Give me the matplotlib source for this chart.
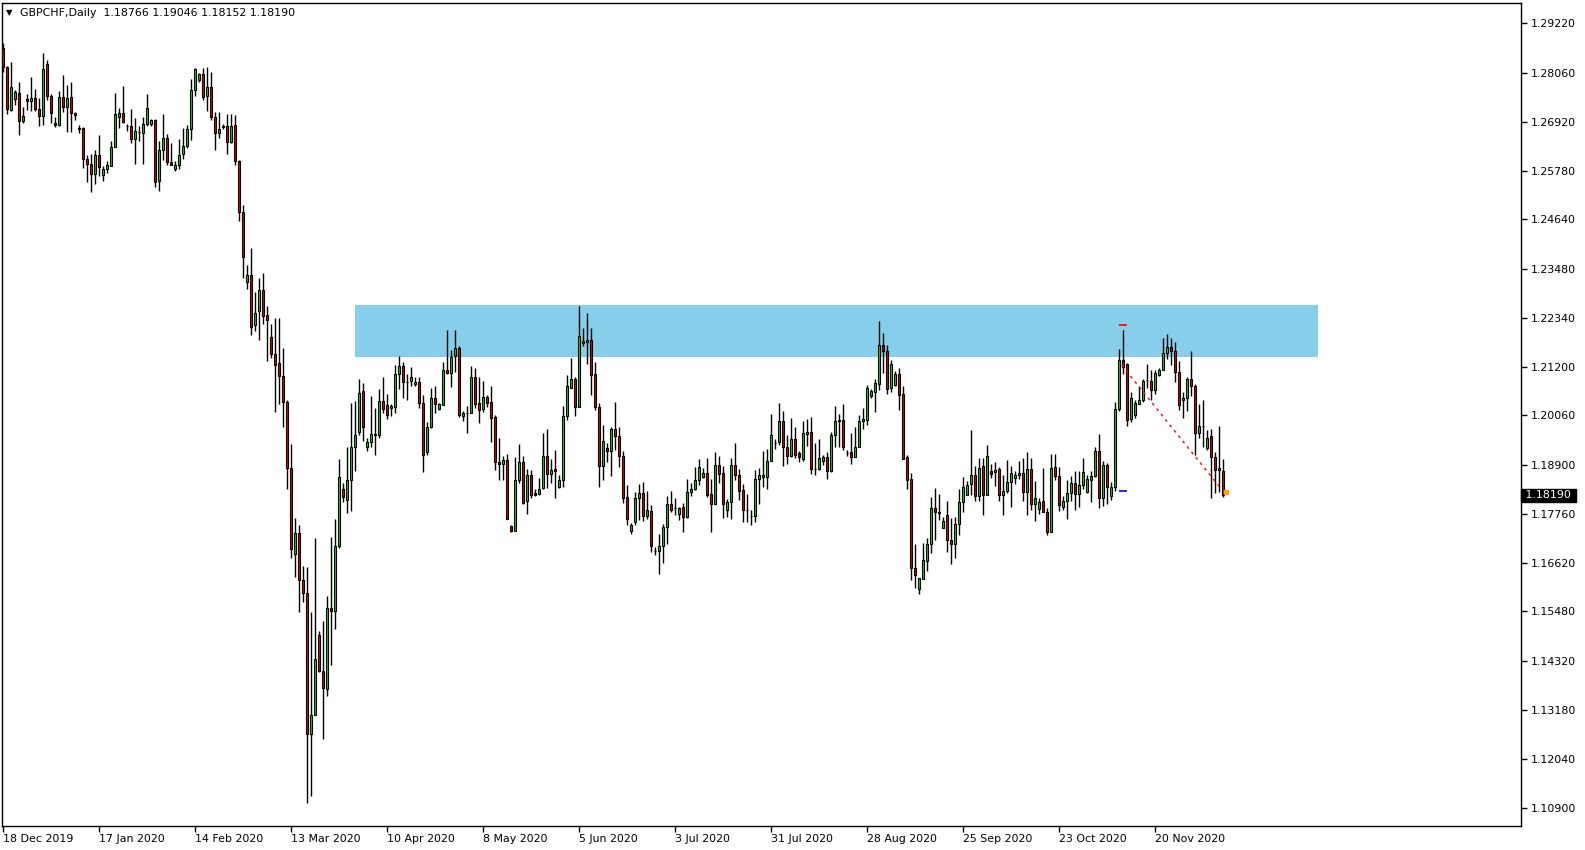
import matplotlib
matplotlib.use("Agg")
import matplotlib.pyplot as plt
import numpy as np

# GBPCHF daily candles, one value per bar
opens = [
    1.2864, 1.2819, 1.2720, 1.2745, 1.2759, 1.2693, 1.2745, 1.2740, 1.2747, 1.2722,
    1.2706, 1.2826, 1.2752, 1.2689, 1.2684, 1.2750, 1.2726, 1.2750, 1.2713, 1.2677,
    1.2678, 1.2606, 1.2594, 1.2571, 1.2615, 1.2568, 1.2582, 1.2589, 1.2634, 1.2704,
    1.2712, 1.2682, 1.2682, 1.2652, 1.2668, 1.2666, 1.2687, 1.2687, 1.2695, 1.2553,
    1.2625, 1.2655, 1.2599, 1.2581, 1.2592, 1.2616, 1.2636, 1.2674, 1.2766, 1.2789,
    1.2803, 1.2751, 1.2773, 1.2703, 1.2666, 1.2681, 1.2681, 1.2644, 1.2685, 1.2601,
    1.2480, 1.2317, 1.2334, 1.2217, 1.2249, 1.2300, 1.2241, 1.2189, 1.2149, 1.2128,
    1.2099, 1.2037, 1.1883, 1.1682, 1.1732, 1.1621, 1.1590, 1.1261, 1.1306, 1.1494,
    1.1410, 1.1366, 1.1556, 1.1550, 1.1701, 1.1835, 1.1808, 1.1856, 1.1933, 1.1968,
    1.2064, 1.1931, 1.1943, 1.1959, 1.1961, 1.2040, 1.2030, 1.2024, 1.2026, 1.2102,
    1.2122, 1.2085, 1.2086, 1.2079, 1.2084, 1.2034, 1.1920, 1.1980, 1.2046, 1.2021,
    1.2030, 1.2113, 1.2106, 1.2144, 1.2164, 1.2005, 1.2011, 1.2012, 1.2095, 1.2034,
    1.2021, 1.2050, 1.2038, 1.2002, 1.1896, 1.1893, 1.1902, 1.1747, 1.1737, 1.1854,
    1.1896, 1.1805, 1.1866, 1.1825, 1.1823, 1.1837, 1.1912, 1.1870, 1.1881, 1.1838,
    1.1854, 1.2005, 1.2071, 1.2090, 1.2026, 1.2175, 1.2178, 1.2183, 1.2102, 1.2026,
    1.1888, 1.1929, 1.1922, 1.1974, 1.1957, 1.1910, 1.1815, 1.1737, 1.1757, 1.1813,
    1.1825, 1.1772, 1.1782, 1.1690, 1.1689, 1.1701, 1.1745, 1.1799, 1.1790, 1.1775,
    1.1792, 1.1768, 1.1826, 1.1834, 1.1854, 1.1861, 1.1871, 1.1823, 1.1798, 1.1889,
    1.1871, 1.1786, 1.1803, 1.1889, 1.1867, 1.1831, 1.1785, 1.1772, 1.1771, 1.1857,
    1.1862, 1.1861, 1.1899, 1.1941, 1.1943, 1.1994, 1.1933, 1.1910, 1.1950, 1.1918,
    1.1903, 1.1963, 1.1968, 1.1881, 1.1881, 1.1899, 1.1908, 1.1875, 1.1959, 1.1993,
    1.1995, 1.1918, 1.1920, 1.1908, 1.1931, 1.1992, 1.1995, 1.2051, 1.2061, 1.2079,
    1.2171, 1.2157, 1.2071, 1.2077, 1.2102, 1.2055, 1.1909, 1.1857, 1.1649, 1.1600,
    1.1623, 1.1666, 1.1705, 1.1790, 1.1780, 1.1742, 1.1773, 1.1716, 1.1705, 1.1753,
    1.1803, 1.1821, 1.1846, 1.1866, 1.1817, 1.1887, 1.1819, 1.1875, 1.1873, 1.1881,
    1.1821, 1.1830, 1.1850, 1.1860, 1.1866, 1.1871, 1.1826, 1.1881, 1.1799, 1.1788,
    1.1806, 1.1780, 1.1733, 1.1885, 1.1865, 1.1792, 1.1806, 1.1824, 1.1848, 1.1823,
    1.1843, 1.1827, 1.1856, 1.1864, 1.1922, 1.1812, 1.1889, 1.1817, 1.1838, 1.2020,
    1.2136, 1.2125, 1.1998, 1.2007, 1.2033, 1.2041, 1.2088, 1.2087, 1.2065, 1.2100,
    1.2112, 1.2152, 1.2166, 1.2157, 1.2108, 1.2041, 1.2047, 1.2090, 1.2075, 1.1964,
    1.1982, 1.1930, 1.1957, 1.1908, 1.1878, 1.18766,
]
highs = [
    1.2877, 1.2821, 1.2831, 1.2765, 1.2785, 1.2726, 1.2757, 1.2797, 1.2769, 1.2747,
    1.2852, 1.2837, 1.2757, 1.2702, 1.2764, 1.2801, 1.2777, 1.2785, 1.2715, 1.2685,
    1.2680, 1.2614, 1.2616, 1.2626, 1.2662, 1.2589, 1.2600, 1.2647, 1.2759, 1.2724,
    1.2775, 1.2687, 1.2722, 1.2701, 1.2681, 1.2702, 1.2757, 1.2699, 1.2699, 1.2647,
    1.2709, 1.2664, 1.2642, 1.2601, 1.2651, 1.2678, 1.2684, 1.2792, 1.2818, 1.2806,
    1.2818, 1.2820, 1.2809, 1.2714, 1.2714, 1.2686, 1.2711, 1.2711, 1.2707, 1.2603,
    1.2497, 1.2358, 1.2397, 1.2295, 1.2327, 1.2339, 1.2261, 1.2219, 1.2233, 1.2233,
    1.2163, 1.2041, 1.1938, 1.1766, 1.1751, 1.1655, 1.1651, 1.1546, 1.1719, 1.1503,
    1.1525, 1.1585, 1.1723, 1.1765, 1.1904, 1.1848, 1.1933, 1.2034, 1.2040, 1.2090,
    1.2082, 1.1954, 1.2052, 1.2023, 1.2067, 1.2095, 1.2057, 1.2032, 1.2123, 1.2145,
    1.2130, 1.2102, 1.2119, 1.2096, 1.2096, 1.2054, 1.1990, 1.2071, 1.2075, 1.2036,
    1.2130, 1.2205, 1.2158, 1.2206, 1.2168, 1.2016, 1.2028, 1.2122, 1.2116, 1.2095,
    1.2086, 1.2054, 1.2075, 1.2007, 1.1953, 1.1912, 1.1916, 1.1750, 1.1909, 1.1939,
    1.1912, 1.1881, 1.1878, 1.1833, 1.1860, 1.1964, 1.1975, 1.1905, 1.1924, 1.1866,
    1.2028, 1.2101, 1.2139, 1.2096, 1.2261, 1.2210, 1.2246, 1.2210, 1.2131, 1.2036,
    1.1984, 1.1941, 1.1980, 1.2038, 1.1978, 1.1923, 1.1843, 1.1755, 1.1826, 1.1846,
    1.1850, 1.1829, 1.1796, 1.1699, 1.1728, 1.1753, 1.1817, 1.1829, 1.1813, 1.1792,
    1.1802, 1.1857, 1.1848, 1.1885, 1.1905, 1.1883, 1.1906, 1.1857, 1.1920, 1.1910,
    1.1888, 1.1811, 1.1906, 1.1941, 1.1881, 1.1846, 1.1823, 1.1785, 1.1879, 1.1883,
    1.1923, 1.1928, 1.2009, 1.1950, 1.2036, 1.2017, 1.1961, 1.1999, 1.1980, 1.1922,
    1.1992, 1.1997, 1.2002, 1.1941, 1.1950, 1.1914, 1.1920, 1.1968, 1.2029, 1.2009,
    1.2032, 1.1924, 1.1965, 1.1978, 1.2007, 1.2023, 1.2078, 1.2067, 1.2091, 1.2226,
    1.2199, 1.2171, 1.2135, 1.2109, 1.2116, 1.2074, 1.1914, 1.1871, 1.1705, 1.1627,
    1.1709, 1.1720, 1.1815, 1.1837, 1.1822, 1.1768, 1.1806, 1.1767, 1.1768, 1.1833,
    1.1862, 1.1852, 1.1971, 1.1887, 1.1906, 1.1906, 1.1936, 1.1893, 1.1898, 1.1885,
    1.1867, 1.1902, 1.1887, 1.1875, 1.1900, 1.1906, 1.1920, 1.1906, 1.1852, 1.1812,
    1.1883, 1.1790, 1.1915, 1.1916, 1.1885, 1.1817, 1.1854, 1.1864, 1.1875, 1.1877,
    1.1906, 1.1867, 1.1875, 1.1932, 1.1962, 1.1899, 1.1895, 1.1850, 1.2038, 1.2162,
    1.2206, 1.2129, 1.2061, 1.2042, 1.2075, 1.2090, 1.2127, 1.2112, 1.2113, 1.2117,
    1.2187, 1.2195, 1.2187, 1.2178, 1.2133, 1.2061, 1.2096, 1.2156, 1.2079, 1.2032,
    1.2041, 1.1972, 1.1974, 1.1920, 1.1981, 1.19046,
]
lows = [
    1.2807, 1.2711, 1.2718, 1.2730, 1.2661, 1.2689, 1.2720, 1.2718, 1.2718, 1.2682,
    1.2685, 1.2742, 1.2688, 1.2680, 1.2682, 1.2714, 1.2668, 1.2668, 1.2695, 1.2666,
    1.2585, 1.2550, 1.2528, 1.2547, 1.2565, 1.2554, 1.2573, 1.2589, 1.2634, 1.2678,
    1.2689, 1.2671, 1.2643, 1.2594, 1.2648, 1.2594, 1.2682, 1.2682, 1.2540, 1.2531,
    1.2603, 1.2592, 1.2590, 1.2578, 1.2581, 1.2606, 1.2631, 1.2650, 1.2751, 1.2784,
    1.2742, 1.2717, 1.2695, 1.2625, 1.2653, 1.2675, 1.2617, 1.2642, 1.2590, 1.2460,
    1.2327, 1.2302, 1.2193, 1.2202, 1.2183, 1.2219, 1.2133, 1.2141, 1.2013, 1.2033,
    1.1980, 1.1833, 1.1674, 1.1629, 1.1546, 1.1571, 1.1100, 1.1118, 1.1306, 1.1406,
    1.1249, 1.1350, 1.1423, 1.1507, 1.1696, 1.1804, 1.1778, 1.1782, 1.1877, 1.1959,
    1.1947, 1.1922, 1.1933, 1.1913, 1.1954, 1.2011, 1.1998, 1.2005, 1.2011, 1.2067,
    1.2047, 1.2042, 1.2075, 1.2075, 1.2023, 1.1873, 1.1913, 1.1976, 1.2011, 1.2019,
    1.2030, 1.2102, 1.2073, 1.2108, 1.2003, 1.1993, 1.1964, 1.2012, 1.2023, 1.1989,
    1.2015, 1.2026, 1.1944, 1.1879, 1.1856, 1.1854, 1.1763, 1.1733, 1.1737, 1.1848,
    1.1798, 1.1776, 1.1813, 1.1817, 1.1821, 1.1833, 1.1837, 1.1848, 1.1813, 1.1837,
    1.1839, 1.1995, 1.2069, 1.2005, 1.2025, 1.2168, 1.2125, 1.2054, 1.2019, 1.1839,
    1.1856, 1.1896, 1.1865, 1.1924, 1.1885, 1.1802, 1.1749, 1.1728, 1.1750, 1.1761,
    1.1759, 1.1765, 1.1687, 1.1679, 1.1635, 1.1661, 1.1706, 1.1781, 1.1774, 1.1761,
    1.1733, 1.1767, 1.1817, 1.1831, 1.1843, 1.1860, 1.1816, 1.1734, 1.1798, 1.1848,
    1.1767, 1.1769, 1.1763, 1.1854, 1.1809, 1.1757, 1.1757, 1.1751, 1.1757, 1.1800,
    1.1839, 1.1835, 1.1899, 1.1928, 1.1937, 1.1888, 1.1893, 1.1909, 1.1906, 1.1896,
    1.1900, 1.1934, 1.1870, 1.1867, 1.1878, 1.1891, 1.1858, 1.1873, 1.1932, 1.1932,
    1.1926, 1.1910, 1.1893, 1.1908, 1.1931, 1.1975, 1.1984, 1.2046, 1.2015, 1.2065,
    1.2104, 1.2056, 1.2060, 1.2075, 1.2019, 1.1905, 1.1833, 1.1622, 1.1602, 1.1588,
    1.1623, 1.1643, 1.1684, 1.1716, 1.1761, 1.1742, 1.1687, 1.1658, 1.1672, 1.1726,
    1.1781, 1.1821, 1.1821, 1.1805, 1.1805, 1.1774, 1.1819, 1.1860, 1.1840, 1.1805,
    1.1774, 1.1825, 1.1792, 1.1846, 1.1858, 1.1805, 1.1773, 1.1785, 1.1760, 1.1775,
    1.1780, 1.1726, 1.1733, 1.1856, 1.1782, 1.1784, 1.1765, 1.1807, 1.1786, 1.1792,
    1.1833, 1.1825, 1.1804, 1.1862, 1.1789, 1.1794, 1.1800, 1.1809, 1.1830, 1.2016,
    1.2102, 1.1982, 1.1990, 1.2000, 1.2032, 1.2038, 1.2069, 1.2042, 1.2056, 1.2098,
    1.2112, 1.2137, 1.2123, 1.2085, 1.2019, 1.2001, 1.2017, 1.2052, 1.1914, 1.1953,
    1.1931, 1.1924, 1.1812, 1.1825, 1.1827, 1.18152,
]
closes = [
    1.2819, 1.2722, 1.2773, 1.2761, 1.2693, 1.2706, 1.2740, 1.2747, 1.2722, 1.2705,
    1.2815, 1.2751, 1.2713, 1.2684, 1.2750, 1.2726, 1.2747, 1.2713, 1.2707, 1.2676,
    1.2606, 1.2594, 1.2571, 1.2615, 1.2586, 1.2582, 1.2590, 1.2634, 1.2709, 1.2713,
    1.2691, 1.2681, 1.2652, 1.2671, 1.2667, 1.2687, 1.2724, 1.2695, 1.2552, 1.2625,
    1.2655, 1.2599, 1.2592, 1.2592, 1.2614, 1.2636, 1.2674, 1.2766, 1.2814, 1.2803,
    1.2750, 1.2773, 1.2703, 1.2666, 1.2675, 1.2680, 1.2644, 1.2683, 1.2601, 1.2480,
    1.2377, 1.2334, 1.2213, 1.2244, 1.2300, 1.2239, 1.2228, 1.2149, 1.2124, 1.2099,
    1.2037, 1.1883, 1.1694, 1.1732, 1.1621, 1.1590, 1.1262, 1.1306, 1.1436, 1.1409,
    1.1368, 1.1556, 1.1550, 1.1701, 1.1861, 1.1815, 1.1856, 1.1932, 1.1959, 1.2059,
    1.1978, 1.1943, 1.1962, 1.1962, 1.2040, 1.2021, 1.2007, 1.2028, 1.2102, 1.2122,
    1.2085, 1.2084, 1.2096, 1.2084, 1.2036, 1.1914, 1.1978, 1.2047, 1.2033, 1.2032,
    1.2113, 1.2106, 1.2143, 1.2164, 1.2007, 1.2011, 1.2012, 1.2096, 1.2033, 1.2019,
    1.2050, 1.2036, 1.1999, 1.1896, 1.1893, 1.1902, 1.1764, 1.1737, 1.1854, 1.1896,
    1.1802, 1.1866, 1.1819, 1.1821, 1.1834, 1.1912, 1.1870, 1.1878, 1.1875, 1.1854,
    1.2005, 1.2075, 1.2090, 1.2026, 1.2191, 1.2179, 1.2183, 1.2100, 1.2026, 1.1888,
    1.1947, 1.1922, 1.1974, 1.1957, 1.1910, 1.1813, 1.1763, 1.1750, 1.1813, 1.1825,
    1.1772, 1.1785, 1.1701, 1.1690, 1.1701, 1.1745, 1.1799, 1.1786, 1.1789, 1.1790,
    1.1768, 1.1826, 1.1834, 1.1854, 1.1885, 1.1871, 1.1819, 1.1798, 1.1889, 1.1870,
    1.1800, 1.1803, 1.1889, 1.1867, 1.1830, 1.1785, 1.1785, 1.1772, 1.1857, 1.1866,
    1.1866, 1.1899, 1.1959, 1.1941, 1.1994, 1.1933, 1.1910, 1.1950, 1.1914, 1.1908,
    1.1964, 1.1968, 1.1881, 1.1881, 1.1906, 1.1908, 1.1875, 1.1959, 1.1994, 1.1995,
    1.1932, 1.1918, 1.1908, 1.1931, 1.1992, 1.1997, 1.2071, 1.2063, 1.2081, 1.2171,
    1.2157, 1.2068, 1.2127, 1.2102, 1.2054, 1.1905, 1.1856, 1.1649, 1.1633, 1.1625,
    1.1668, 1.1706, 1.1790, 1.1780, 1.1777, 1.1759, 1.1714, 1.1705, 1.1753, 1.1803,
    1.1839, 1.1843, 1.1866, 1.1817, 1.1884, 1.1819, 1.1910, 1.1870, 1.1878, 1.1821,
    1.1830, 1.1850, 1.1871, 1.1866, 1.1871, 1.1826, 1.1881, 1.1799, 1.1813, 1.1803,
    1.1780, 1.1733, 1.1884, 1.1865, 1.1796, 1.1806, 1.1824, 1.1848, 1.1823, 1.1843,
    1.1874, 1.1857, 1.1864, 1.1922, 1.1812, 1.1889, 1.1838, 1.1838, 1.2020, 1.2136,
    1.2119, 1.1995, 1.2046, 1.2034, 1.2041, 1.2087, 1.2088, 1.2065, 1.2106, 1.2113,
    1.2152, 1.2166, 1.2157, 1.2108, 1.2030, 1.2046, 1.2090, 1.2075, 1.1964, 1.1982,
    1.1982, 1.1954, 1.1908, 1.1878, 1.1883, 1.18190,
]

date_labels = ["18 Dec 2019", "17 Jan 2020", "14 Feb 2020", "13 Mar 2020", "10 Apr 2020",
               "8 May 2020", "5 Jun 2020", "3 Jul 2020", "31 Jul 2020", "28 Aug 2020",
               "25 Sep 2020", "23 Oct 2020", "20 Nov 2020"]
date_bars = [0, 24, 48, 72, 96, 120, 144, 168, 192, 216, 240, 264, 288]

price_ticks = [1.29220, 1.28060, 1.26920, 1.25780, 1.24640, 1.23480, 1.22340, 1.21200,
               1.20060, 1.18900, 1.17760, 1.16620, 1.15480, 1.14320, 1.13180, 1.12040, 1.10900]

# resistance zone
zone_bars = (87.9, 328.8)
zone_prices = (1.2143, 1.2264)

# trade markers
trade_bar = 279.7
trade_sl = 1.2216
trade_tp = 1.1830
trade_line_bars = [279.7, 304.4]
trade_line_prices = [1.2123, 1.1836]
last_price = 1.18190

header = "GBPCHF,Daily  1.18766 1.19046 1.18152 1.18190"

o = np.array(opens)
h = np.array(highs)
l = np.array(lows)
c = np.array(closes)
x = np.arange(len(o))

fig = plt.figure(figsize=(15.85, 8.5), dpi=100)
ax = fig.add_axes([2 / 1585, 24 / 850, 1519 / 1585, 823 / 850])

ax.add_patch(plt.Rectangle((zone_bars[0], zone_prices[0]), zone_bars[1] - zone_bars[0],
                           zone_prices[1] - zone_prices[0], facecolor="#87CEEB",
                           edgecolor="none", zorder=1))

up = c >= o
body_colors = np.where(up, "#00DD00", "#E00000")
ax.vlines(x, l, h, color="black", linewidth=1.0, zorder=2)
ax.bar(x, np.abs(c - o), bottom=np.minimum(o, c), width=0.6, color=body_colors,
       edgecolor="black", linewidth=0.8, zorder=3)

# trade levels and closing line
ax.hlines(trade_sl, trade_bar - 0.6, trade_bar + 1.4, color="red", linewidth=1.2, zorder=4)
ax.hlines(trade_tp, trade_bar - 0.6, trade_bar + 1.4, color="blue", linewidth=1.2, zorder=4)
ax.plot(trade_line_bars, trade_line_prices, color="red", linestyle=(0, (2, 3)),
        linewidth=1.0, zorder=4)
ax.plot([len(o) - 0.2], [1.1827], marker="s", markersize=2.5, color="#FFA500",
        linestyle="none", zorder=5)

ax.set_xlim(-0.25, 379.5)
ax.set_ylim(1.10468, 1.29693)

ax.set_xticks(date_bars)
ax.set_xticklabels(date_labels, fontsize=7.9, ha="left")
ax.tick_params(axis="x", direction="out", length=4, width=1, pad=1.5)

ax.yaxis.tick_right()
ax.set_yticks(price_ticks)
ax.set_yticklabels(["%.5f" % p for p in price_ticks], fontsize=7.9)
ax.tick_params(axis="y", direction="out", length=4, width=1, pad=3)

for s in ax.spines.values():
    s.set_color("black")
    s.set_linewidth(1.0)

ax.text(1.0008, last_price, " %.5f " % last_price, transform=ax.get_yaxis_transform(),
        color="white", fontsize=7.9, ha="left", va="center", clip_on=False, zorder=6,
        bbox=dict(facecolor="black", edgecolor="black", pad=1.0))

fig.text(6 / 1585, 1 - 13 / 850, "\u25BC", fontsize=6, va="center")
fig.text(20 / 1585, 1 - 13 / 850, header, fontsize=7.9, va="center")

fig.savefig("out.png", dpi=100, facecolor="white")
